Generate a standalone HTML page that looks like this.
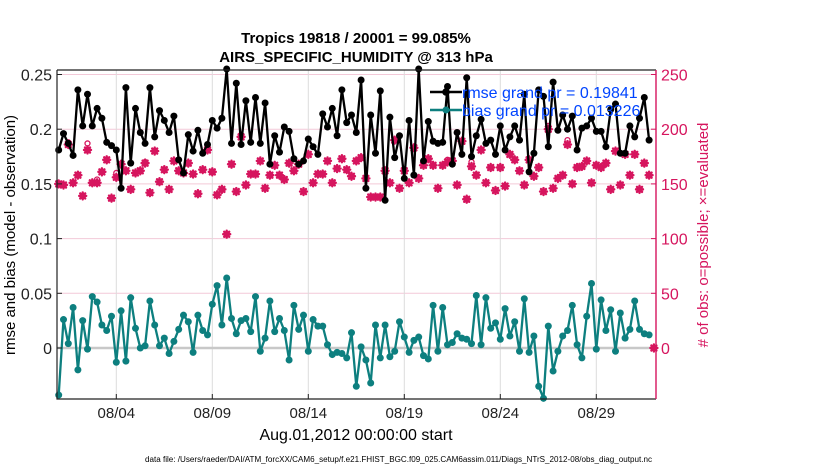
<!DOCTYPE html>
<html><head><meta charset="utf-8"><style>
html,body{margin:0;padding:0;background:#fff}
svg{display:block;font-family:"Liberation Sans",Arial,sans-serif}
</style></head><body>
<svg id="chart" width="830" height="470" viewBox="0 0 830 470">
<text x="356" y="43" text-anchor="middle" font-size="15" font-weight="bold">Tropics 19818 / 20001 = 99.085%</text>
<text x="356" y="62" text-anchor="middle" font-size="15" font-weight="bold">AIRS_SPECIFIC_HUMIDITY @ 313 hPa</text>
<g id="grid"></g>
<g id="marks"></g>
<g id="axes"></g>
<g id="legend">
  <line x1="430" y1="92" x2="462" y2="92" stroke="#000" stroke-width="2.5"/>
  <circle cx="446" cy="92" r="3.8" fill="#000"/>
  <text x="462" y="98" font-size="16" fill="#0044ff">rmse grand pr = 0.19841</text>
  <line x1="430" y1="110" x2="462" y2="110" stroke="#0d7f7f" stroke-width="2.5"/>
  <circle cx="446" cy="110" r="3.5" fill="#0d7f7f"/>
  <text x="462" y="116" font-size="16" fill="#0044ff">bias grand pr = 0.013226</text>
</g>
<text transform="translate(15,235) rotate(-90)" text-anchor="middle" font-size="15">rmse and bias (model - observation)</text>
<text transform="translate(708,235) rotate(-90)" text-anchor="middle" font-size="15" fill="#d6155e"># of obs: o=possible; ×=evaluated</text>
<text x="356" y="440" text-anchor="middle" font-size="16">Aug.01,2012 00:00:00 start</text>
<text x="145" y="462" font-size="8" textLength="507" lengthAdjust="spacingAndGlyphs">data file: /Users/raeder/DAI/ATM_forcXX/CAM6_setup/f.e21.FHIST_BGC.f09_025.CAM6assim.011/Diags_NTrS_2012-08/obs_diag_output.nc</text>
</svg>
<script>
const rmse=[.181,.196,.187,.176,.236,.203,.232,.203,.219,.210,.188,.185,.181,.146,.238,.169,.219,.197,.187,.238,.193,.217,.208,.197,.212,.172,.160,.195,.180,.199,.178,
.186,.208,.201,.210,.255,.187,.242,.186,.226,.188,.229,.187,.224,.168,.194,.179,.202,.198,.173,.168,.171,.191,.184,.177,.214,.202,.219,.194,.236,.206,.213,
.197,.245,.146,.213,.178,.235,.135,.211,.174,.194,.155,.208,.158,.255,.171,.207,.189,.187,.188,.239,.168,.197,.177,.247,.175,.194,.209,.187,.190,.177,.203,
.181,.193,.203,.190,.232,.161,.178,.236,.230,.184,.243,.199,.213,.200,.212,.181,.201,.203,.210,.198,.198,.184,.218,.223,.178,.178,.203,.193,.210,.229,.190];
const bias=[-.043,.026,.004,.037,-.020,.025,-.001,.047,.042,.021,.016,.029,-.013,.034,-.012,.046,.018,.000,.002,.043,.021,.002,.009,-.005,.006,.017,.030,.024,-.004,.030,.016,
.012,.040,.057,.021,.064,.027,.013,.025,.027,.015,.047,-.003,.009,.043,.015,.027,.016,-.011,.039,.017,.030,-.003,.026,.020,.020,.003,-.006,-.004,-.005,-.009,.014,
-.035,.001,-.011,-.032,.021,-.009,.021,-.008,-.003,.024,.010,-.004,.007,.010,-.007,-.010,.039,-.003,.037,.003,.005,.013,.009,.008,.004,.048,.003,.046,.018,.023,.008,
.036,.011,.024,-.003,.045,-.004,.011,-.035,-.046,.020,-.021,-.003,.011,.016,.039,.003,-.009,.029,.059,-.001,.044,.016,.035,-.003,.032,.009,.017,.043,.017,.013,.012];
const nEval=[150,149,186,151,158,139,181,151,151,161,172,137,156,168,162,145,160,162,169,142,180,152,163,145,171,162,160,169,159,141,163,
181,161,140,145,104,168,143,193,149,159,159,171,146,158,167,158,154,169,162,168,143,177,151,159,159,171,151,164,173,163,157,
171,174,155,138,138,138,162,151,190,146,162,151,183,155,167,173,167,146,167,170,171,149,189,136,166,158,181,151,165,144,165,
148,177,172,162,149,172,157,165,143,200,146,155,158,186,150,165,166,171,151,167,165,169,145,180,149,177,158,177,145,169,158,0];
const nPoss=[150,149,188,151,158,139,187,151,154,161,172,137,160,168,162,145,160,162,170,142,180,152,163,145,171,162,160,169,159,141,163,
181,161,140,145,104,168,143,195,149,159,159,171,146,158,167,158,154,169,162,168,143,177,151,159,159,171,151,164,173,163,157,
171,174,155,138,138,138,162,151,190,146,162,151,183,155,167,173,167,146,167,172,171,149,189,136,170,158,181,151,165,144,165,
148,177,172,162,149,172,157,165,143,203,146,155,158,190,150,165,166,171,151,167,165,169,145,180,149,177,158,177,145,169,158,0];
const xTicks=[3,8,13,18,23,28];
const xTickLabels=['08/04','08/09','08/14','08/19','08/24','08/29'];
const yTicks=[0,0.05,0.1,0.15,0.2,0.25];
const yTickLabels=['0','0.05','0.1','0.15','0.2','0.25'];
const y2Ticks=[0,50,100,150,200,250];

const NS='http://www.w3.org/2000/svg';
const L=57,R=656,T=70,B=399;
const X=d=>58.7+19.2*d;
const Y=v=>348-v*1094;
const Y2=n=>348-n*1.094;
const tOf=i=>i*0.25;
function mk(tag,at,parent){const e=document.createElementNS(NS,tag);for(const k in at)e.setAttribute(k,at[k]);parent.appendChild(e);return e;}
const grid=document.getElementById('grid'),marks=document.getElementById('marks'),axes=document.getElementById('axes');

yTicks.forEach((v,i)=>{
  if(v===0)return;
  const g=mk('line',{x1:L,x2:R,y1:Y(v),y2:Y(v),stroke:'#f3c9d8','stroke-width':1},grid);
  
  
});
xTicks.forEach(d=>{
  const g=mk('line',{x1:X(d),x2:X(d),y1:T,y2:B,stroke:'#dcdcdc','stroke-width':1},grid);
  
  
});
const z=mk('line',{x1:L,x2:R,y1:Y(0),y2:Y(0),stroke:'#c8c8c8','stroke-width':2.5},grid);



function line(vals,yf,color,name){
  const pts=vals.map((v,i)=>X(tOf(i)).toFixed(1)+','+yf(v).toFixed(1)).join(' ');
  const p=mk('polyline',{points:pts,fill:'none',stroke:color,'stroke-width':2.3,'stroke-linejoin':'round'},marks);
  
  
  vals.forEach((v,i)=>{
    const c=mk('circle',{cx:X(tOf(i)),cy:yf(v),r:3.5,fill:color},marks);
    
    
  });
}
nPoss.forEach((n,i)=>{
  const c=mk('circle',{cx:X(tOf(i)),cy:Y2(n),r:2.5,fill:'none',stroke:'#d6155e','stroke-width':1.3},marks);
  
  
});
nEval.forEach((n,i)=>{
  const x=X(tOf(i)),y=Y2(n);
  const s=mk('path',{d:`M${x-3.5},${y}L${x+3.5},${y}M${x},${y-3.5}L${x},${y+3.5}M${x-2.5},${y-2.5}L${x+2.5},${y+2.5}M${x-2.5},${y+2.5}L${x+2.5},${y-2.5}`,stroke:'#d6155e','stroke-width':2.4,'stroke-linecap':'round'},marks);
  
  
});
line(bias,Y,'#0d7f7f','bias');
line(rmse,Y,'#000','rmse');

const fr=mk('path',{d:`M${L},${T}L${R},${T}M${L},${T}L${L},${B}L${R},${B}`,stroke:'#222','stroke-width':1.2,fill:'none'},axes);


const ra=mk('line',{x1:R,x2:R,y1:T,y2:B,stroke:'#d6155e','stroke-width':1.4},axes);


yTicks.forEach((v,i)=>{
  mk('line',{x1:L,x2:L+5,y1:Y(v),y2:Y(v),stroke:'#222'},axes);
  const t=mk('text',{x:L-5,y:Y(v)+6,'text-anchor':'end','font-size':16,fill:'#222'},axes);
  t.textContent=yTickLabels[i];
  
  
});
y2Ticks.forEach(n=>{
  mk('line',{x1:R-5,x2:R,y1:Y2(n),y2:Y2(n),stroke:'#d6155e'},axes);
  const t=mk('text',{x:R+5,y:Y2(n)+6,'font-size':16,fill:'#d6155e'},axes);
  t.textContent=String(n);
  
  
});
xTicks.forEach((d,i)=>{
  mk('line',{x1:X(d),x2:X(d),y1:B,y2:B-5,stroke:'#222'},axes);
  const t=mk('text',{x:X(d),y:B+19,'text-anchor':'middle','font-size':15,fill:'#222'},axes);
  t.textContent=xTickLabels[i];
  
  
});
</script>
</body></html>
